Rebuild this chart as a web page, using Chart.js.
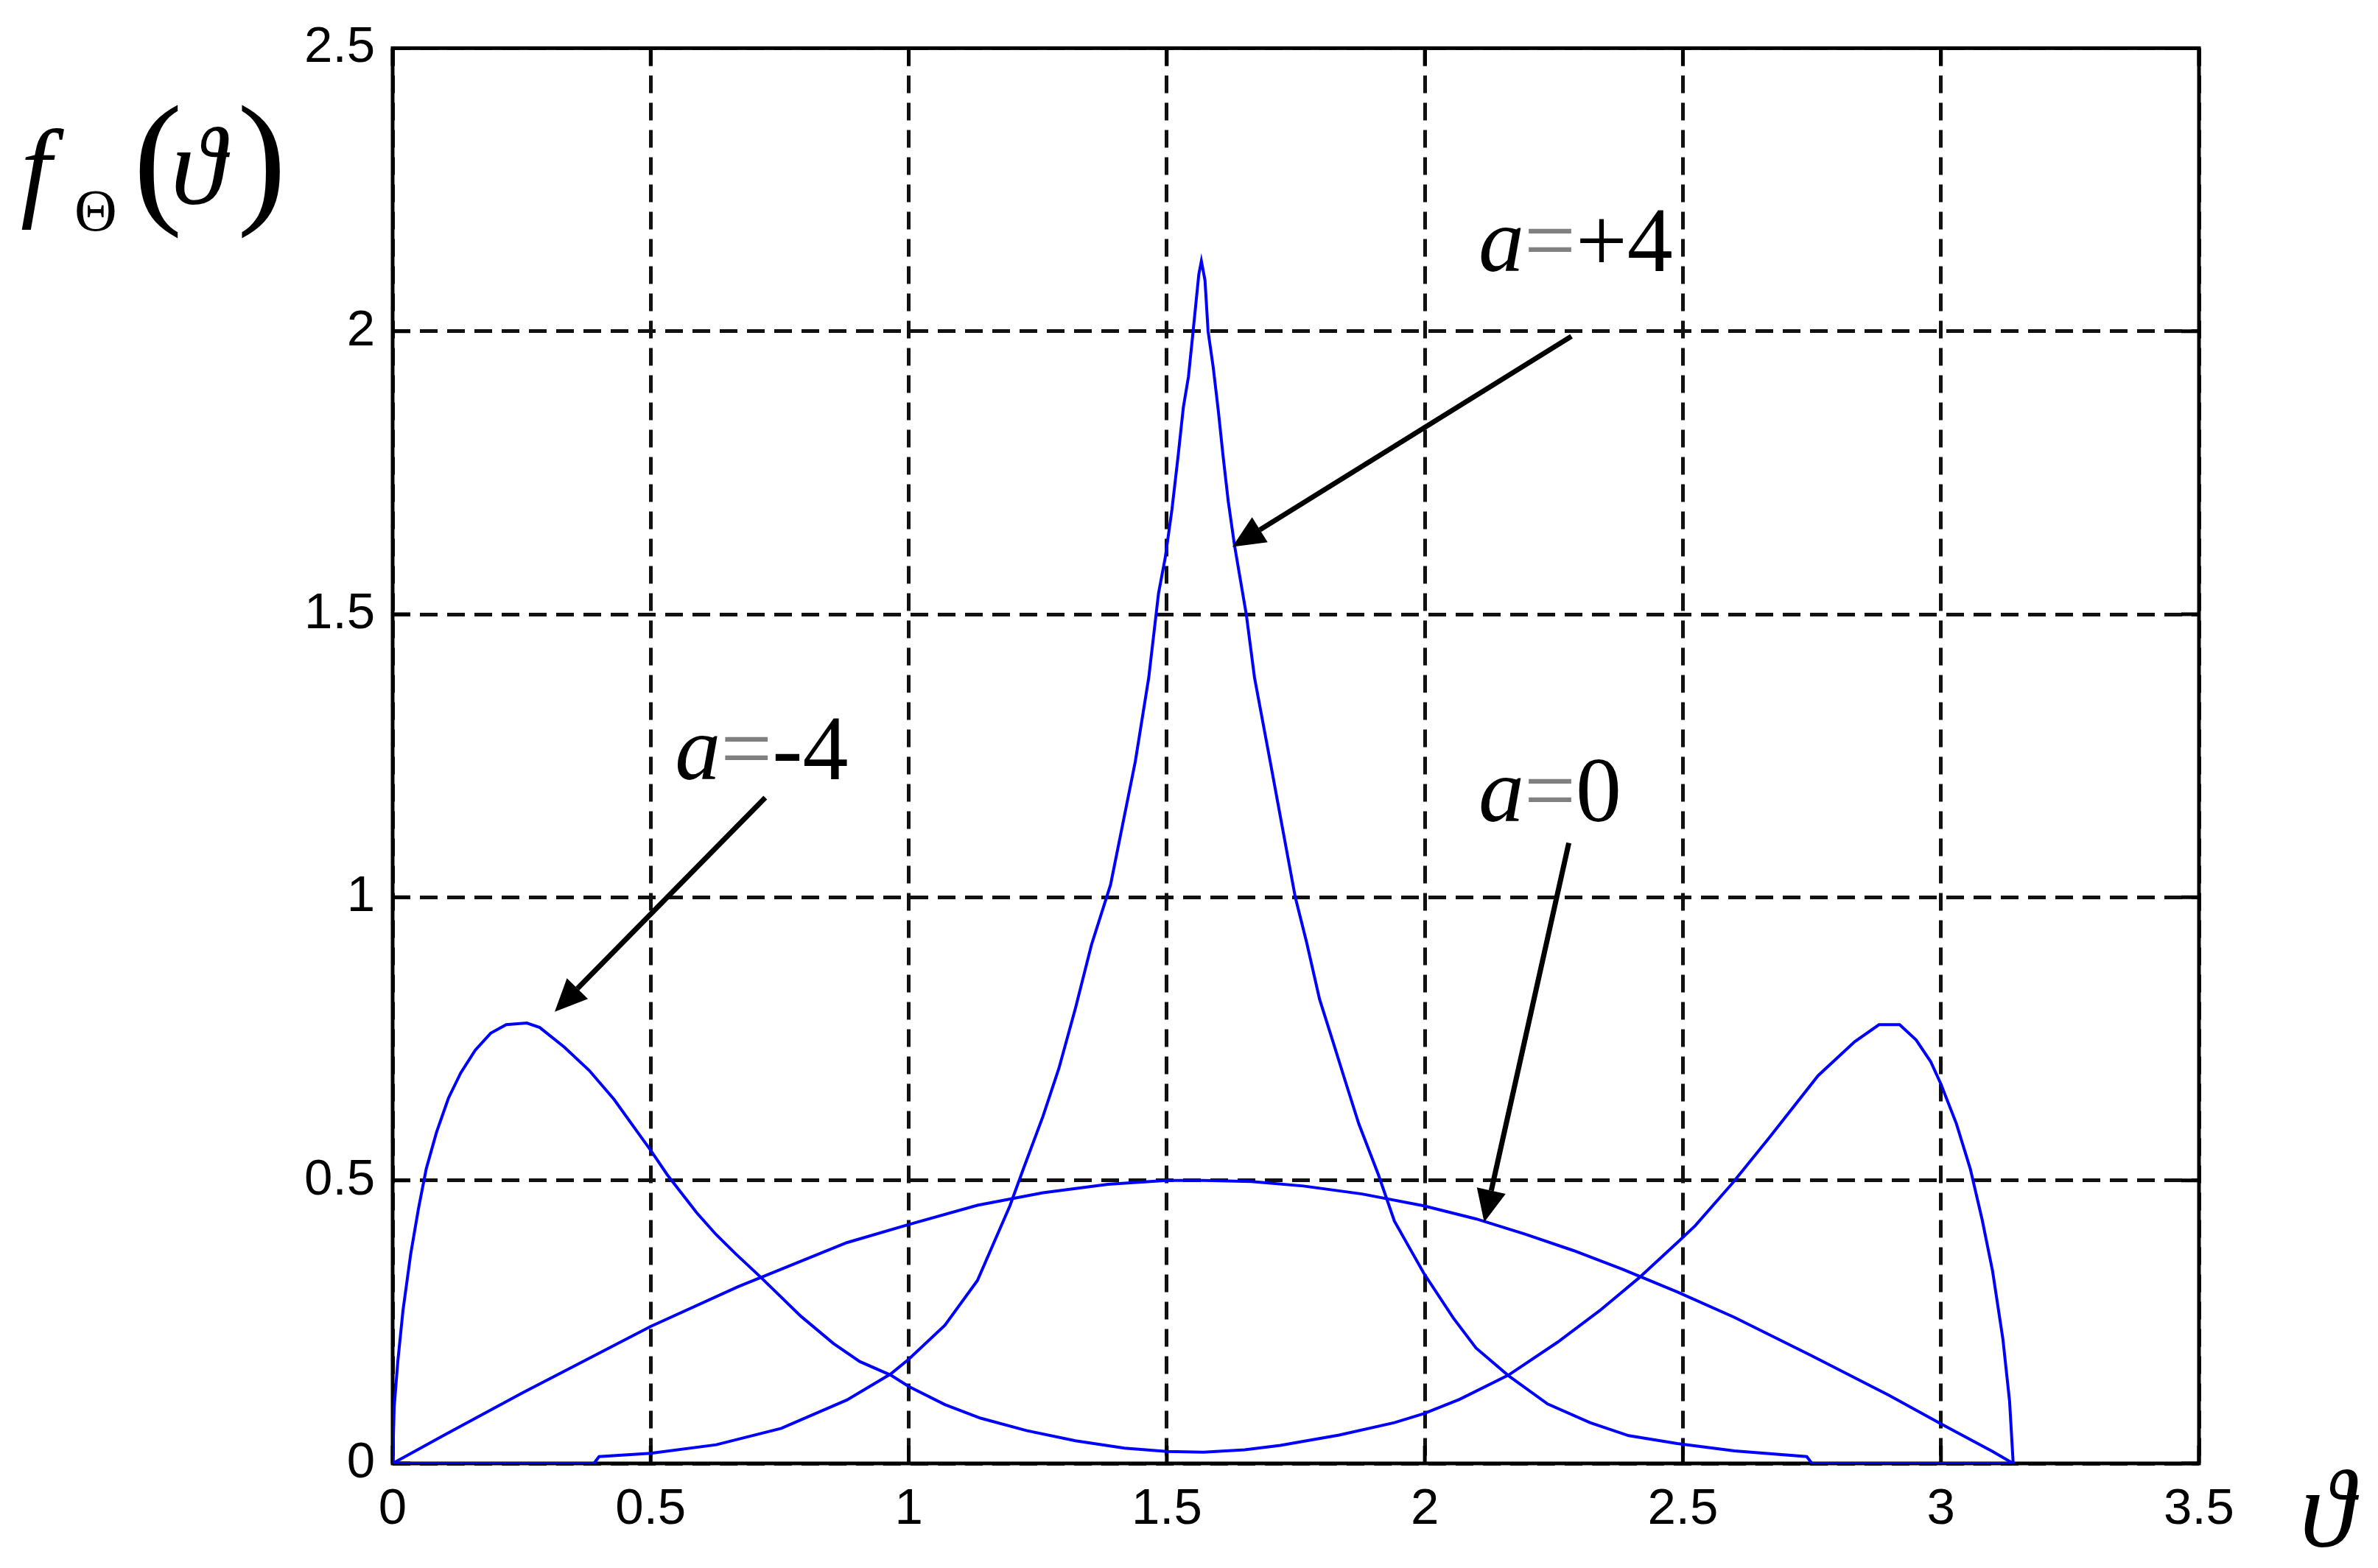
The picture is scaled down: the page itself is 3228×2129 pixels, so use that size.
<!DOCTYPE html>
<html>
<head>
<meta charset="utf-8">
<title>f_Θ(ϑ) for a = -4, 0, +4</title>
<script src="https://cdn.jsdelivr.net/npm/chart.js@4.4.1/dist/chart.umd.min.js"></script>
<style>
  html, body { margin: 0; padding: 0; background: #fff; }
  #chart { display: block; }
</style>
</head>
<body>
<canvas id="chart" width="3228" height="2129"></canvas>
<script>
const xTicks = [0, 0.5, 1, 1.5, 2, 2.5, 3, 3.5];
const xTickLabels = ['0', '0.5', '1', '1.5', '2', '2.5', '3', '3.5'];
const yTicks = [0, 0.5, 1, 1.5, 2, 2.5];
const yTickLabels = ['0', '0.5', '1', '1.5', '2', '2.5'];

// a = -4 (two humps near 0 and pi)
const thetaNeg4 = [0, 0.003, 0.01, 0.02, 0.035, 0.05, 0.065, 0.085, 0.108, 0.132, 0.16, 0.19, 0.22, 0.26,
  0.285, 0.333, 0.381, 0.429, 0.477, 0.5, 0.532, 0.589, 0.627, 0.665, 0.712, 0.791, 0.854, 0.905, 0.965,
  1.0, 1.07, 1.139, 1.228, 1.323, 1.418, 1.5, 1.571, 1.651, 1.72, 1.834, 1.941, 1.998, 2.067, 2.162,
  2.257, 2.339, 2.414, 2.489, 2.524, 2.596, 2.667, 2.762, 2.833, 2.88, 2.92, 2.952, 2.98, 3.0, 3.03,
  3.057, 3.08, 3.1, 3.12, 3.133, 3.14];
const fNeg4 = [0, 0.10, 0.18, 0.27, 0.37, 0.45, 0.52, 0.585, 0.645, 0.69, 0.73, 0.76, 0.775, 0.778,
  0.77, 0.735, 0.694, 0.643, 0.582, 0.553, 0.51, 0.443, 0.404, 0.37, 0.33, 0.26, 0.212, 0.18, 0.156,
  0.136, 0.104, 0.08, 0.058, 0.04, 0.027, 0.021, 0.02, 0.024, 0.032, 0.05, 0.072, 0.088, 0.113, 0.156,
  0.214, 0.27, 0.327, 0.39, 0.42, 0.495, 0.575, 0.685, 0.745, 0.775, 0.775, 0.748, 0.71, 0.67, 0.6,
  0.52, 0.43, 0.34, 0.22, 0.11, 0];

// a = 0
const theta0 = [0, 0.1, 0.25, 0.5, 0.669, 0.75, 0.88, 1.0, 1.133, 1.26, 1.386, 1.5, 1.571, 1.664, 1.765,
  1.878, 1.998, 2.099, 2.194, 2.288, 2.383, 2.489, 2.6, 2.75, 2.9, 3.0, 3.1, 3.14];
const f0 = [0, 0.05, 0.124, 0.242, 0.312, 0.342, 0.39, 0.422, 0.456, 0.478, 0.493, 0.5, 0.5, 0.498, 0.49,
  0.476, 0.455, 0.432, 0.405, 0.376, 0.343, 0.303, 0.258, 0.19, 0.12, 0.07, 0.021, 0];

// a = +4 (sharp peak at pi/2)
const thetaPos4 = [0, 0.39, 0.40, 0.5, 0.627, 0.753, 0.88, 0.965, 1.0, 1.07, 1.133, 1.196, 1.222, 1.26,
  1.291, 1.323, 1.354, 1.391, 1.413, 1.439, 1.465, 1.484, 1.497, 1.51, 1.522, 1.532, 1.542, 1.551, 1.562,
  1.567, 1.574, 1.58, 1.59, 1.6, 1.609, 1.619, 1.631, 1.654, 1.67, 1.686, 1.702, 1.721, 1.749, 1.771,
  1.796, 1.822, 1.847, 1.872, 1.91, 1.941, 1.998, 2.055, 2.099, 2.162, 2.238, 2.32, 2.395, 2.489, 2.6,
  2.74, 2.75, 3.14];
const fPos4 = [0, 0, 0.012, 0.018, 0.033, 0.062, 0.112, 0.158, 0.184, 0.244, 0.323, 0.455, 0.52, 0.613,
  0.698, 0.804, 0.916, 1.022, 1.122, 1.24, 1.388, 1.537, 1.6, 1.685, 1.78, 1.865, 1.92, 2.0, 2.1,
  2.124, 2.09, 2.0, 1.936, 1.858, 1.78, 1.70, 1.623, 1.5, 1.388, 1.31, 1.232, 1.138, 1.0, 0.92,
  0.82, 0.745, 0.672, 0.6, 0.51, 0.428, 0.336, 0.257, 0.204, 0.155, 0.105, 0.072, 0.049, 0.035, 0.022,
  0.012, 0, 0];

// annotations (data coordinates)
const noteValues = ['+4', '-4', '0'];
const noteX = [2.104, 0.547, 2.104];
const noteY = [2.106, 1.209, 1.134];
const arrowFromX = [2.284, 0.722, 2.279];
const arrowFromY = [1.991, 1.176, 1.096];
const arrowToX = [1.627, 0.314, 2.115];
const arrowToY = [1.619, 0.798, 0.426];

const SERIF = '"Liberation Serif", "DejaVu Serif", serif';

function toPoints(xs, ys) {
  return xs.map((x, i) => ({ x: x, y: ys[i] }));
}

function drawArrow(ctx, x1, y1, x2, y2) {
  const ang = Math.atan2(y2 - y1, x2 - x1);
  const headLen = 44;
  const headHalf = 20;
  const bx = x2 - headLen * Math.cos(ang);
  const by = y2 - headLen * Math.sin(ang);
  ctx.beginPath();
  ctx.moveTo(x1, y1);
  ctx.lineTo(bx, by);
  ctx.stroke();
  ctx.beginPath();
  ctx.moveTo(x2, y2);
  ctx.lineTo(bx + headHalf * Math.sin(ang), by - headHalf * Math.cos(ang));
  ctx.lineTo(bx - headHalf * Math.sin(ang), by + headHalf * Math.cos(ang));
  ctx.closePath();
  ctx.fill();
}

const extras = {
  id: 'extras',
  // box and ticks go under the curves, like the original
  beforeDatasetsDraw(chart) {
    const ctx = chart.ctx;
    const area = chart.chartArea;
    const xs = chart.scales.x;
    const ys = chart.scales.y;
    ctx.save();
    ctx.strokeStyle = '#000';
    ctx.lineWidth = 5;
    ctx.setLineDash([]);
    ctx.strokeRect(area.left, area.top, area.right - area.left, area.bottom - area.top);

    const tl = 24;
    ctx.lineWidth = 5;
    ctx.beginPath();
    xTicks.forEach(v => {
      const px = xs.getPixelForValue(v);
      ctx.moveTo(px, area.bottom); ctx.lineTo(px, area.bottom - tl);
      ctx.moveTo(px, area.top); ctx.lineTo(px, area.top + tl);
    });
    yTicks.forEach(v => {
      const py = ys.getPixelForValue(v);
      ctx.moveTo(area.left, py); ctx.lineTo(area.left + tl, py);
      ctx.moveTo(area.right, py); ctx.lineTo(area.right - tl, py);
    });
    ctx.stroke();
    ctx.restore();
  },
  afterDraw(chart) {
    const ctx = chart.ctx;
    const xs = chart.scales.x;
    const ys = chart.scales.y;
    ctx.save();

    // arrows
    ctx.strokeStyle = '#000';
    ctx.lineWidth = 7;
    ctx.fillStyle = '#000';
    ctx.lineCap = 'butt';
    for (let i = 0; i < arrowFromX.length; i++) {
      drawArrow(ctx,
        xs.getPixelForValue(arrowFromX[i]), ys.getPixelForValue(arrowFromY[i]),
        xs.getPixelForValue(arrowToX[i]), ys.getPixelForValue(arrowToY[i]));
    }

    // labels a=...
    ctx.textBaseline = 'alphabetic';
    ctx.textAlign = 'left';
    for (let i = 0; i < noteValues.length; i++) {
      let px = xs.getPixelForValue(noteX[i]);
      const py = ys.getPixelForValue(noteY[i]);
      ctx.font = 'italic 124px ' + SERIF;
      ctx.fillStyle = '#000';
      ctx.fillText('a', px, py);
      px += ctx.measureText('a').width;
      ctx.font = '124px ' + SERIF;
      ctx.fillStyle = '#808080';
      ctx.fillText('=', px, py);
      px += ctx.measureText('=').width;
      ctx.fillStyle = '#000';
      ctx.fillText(noteValues[i], px, py);
    }

    // y axis title f_Θ(ϑ)
    ctx.fillStyle = '#000';
    ctx.font = 'italic 150px ' + SERIF;
    ctx.fillText('f', 28, 280);
    ctx.font = '80px ' + SERIF;
    ctx.fillText('Θ', 101, 313);
    ctx.font = '200px ' + SERIF;
    ctx.fillText('(', 181, 281);
    ctx.font = 'italic 150px ' + SERIF;
    ctx.fillText('ϑ', 232, 277);
    ctx.font = '200px ' + SERIF;
    ctx.fillText(')', 322, 281);

    // x axis title ϑ
    ctx.font = 'italic 150px ' + SERIF;
    ctx.fillText('ϑ', 3122, 2100);

    ctx.restore();
  }
};

const lineStyle = {
  borderColor: '#0000ff',
  borderWidth: 4,
  pointRadius: 0,
  tension: 0,
  fill: false
};

new Chart(document.getElementById('chart'), {
  type: 'line',
  data: {
    datasets: [
      Object.assign({ label: 'a=-4', data: toPoints(thetaNeg4, fNeg4) }, lineStyle),
      Object.assign({ label: 'a=0', data: toPoints(theta0, f0) }, lineStyle),
      Object.assign({ label: 'a=+4', data: toPoints(thetaPos4, fPos4) }, lineStyle)
    ]
  },
  options: {
    responsive: false,
    animation: false,
    devicePixelRatio: 1,
    layout: { padding: { top: 58, right: 243, left: 0, bottom: 0 } },
    plugins: {
      legend: { display: false },
      tooltip: { enabled: false }
    },
    scales: {
      x: {
        type: 'linear',
        min: 0,
        max: 3.5,
        afterBuildTicks: scale => { scale.ticks = xTicks.map(v => ({ value: v })); },
        afterFit: scale => { scale.height = 142; },
        grid: { color: '#111', lineWidth: 5, drawTicks: false },
        border: { display: false, dash: [24, 13] },
        ticks: {
          color: '#000',
          padding: 22,
          maxRotation: 0,
          autoSkip: false,
          font: { family: '"Liberation Sans", Arial, sans-serif', size: 69 },
          callback: (value, index) => xTickLabels[index]
        }
      },
      y: {
        type: 'linear',
        min: 0,
        max: 2.5,
        afterBuildTicks: scale => { scale.ticks = yTicks.map(v => ({ value: v })); },
        afterFit: scale => { scale.width = 533; },
        grid: { color: '#111', lineWidth: 5, drawTicks: false },
        border: { display: false, dash: [24, 13] },
        ticks: {
          color: '#000',
          padding: 24,
          autoSkip: false,
          font: { family: '"Liberation Sans", Arial, sans-serif', size: 69 },
          callback: (value, index) => yTickLabels[index]
        }
      }
    }
  },
  plugins: [extras]
});
</script>
</body>
</html>
